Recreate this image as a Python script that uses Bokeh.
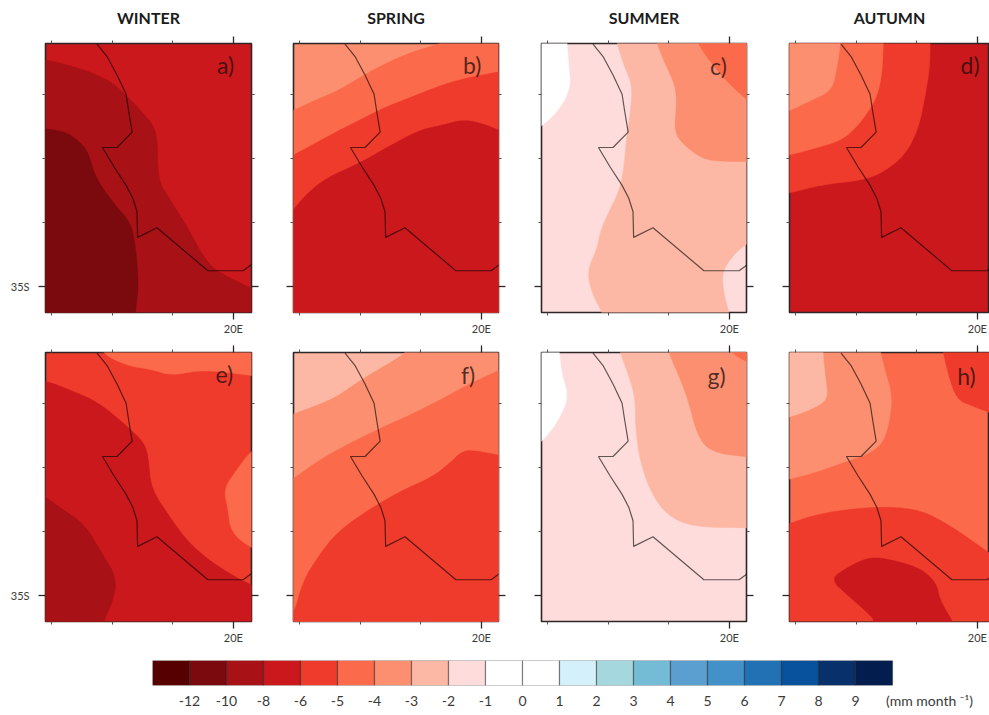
from bokeh.embed import file_html
from bokeh.resources import INLINE
from bokeh.layouts import column, row
from bokeh.models import ColumnDataSource, FixedTicker, Label, LinearAxis, Range1d, Title
from bokeh.plotting import figure

# ---- colour scale (one colour per colour-bar box) ----
box_colors = ["#560002", "#7b0a0e", "#a81116", "#cb181d", "#ef3b2c", "#fb6a4a", "#fc8f70",
              "#fcb8a4", "#fedcdc", "#ffffff", "#ffffff", "#d4f0fa", "#a5d8de", "#74bcd6",
              "#5a9fd0", "#4291c8", "#2171b5", "#08519c", "#08306b", "#041d4f"]
tick_labels = ["-12", "-10", "-8", "-6", "-5", "-4", "-3", "-2", "-1", "0",
               "1", "2", "3", "4", "5", "6", "7", "8", "9"]
unit_label = "(mm month \u207b\u00b9)"

season_titles = ["WINTER", "SPRING", "SUMMER", "AUTUMN"]
panel_letters = ["a)", "b)", "c)", "d)", "e)", "f)", "g)", "h)"]

# ---- coastline (lon, lat) ----
coast = [(17.75, -31.22), (17.92, -31.42), (18.08, -31.70), (18.23, -32.0), (18.27, -32.25),
         (18.33, -32.59), (18.08, -32.83), (17.84, -32.83), (18.03, -33.13), (18.23, -33.42),
         (18.34, -33.62), (18.41, -33.83), (18.42, -34.23), (18.74, -34.08), (19.58, -34.75),
         (20.16, -34.75), (20.29, -34.66), (20.5, -34.55)]

# ---- contour regions (lon, lat) ----
a_c8 = [(16.5, -31.44), (16.9, -31.46), (17.25, -31.54), (17.69, -31.67), (18.02, -31.83), (18.27, -32.06),
        (18.52, -32.30), (18.75, -32.58), (18.75, -33.34), (18.96, -33.65), (19.24, -34.07),
        (19.57, -34.64), (19.85, -34.82), (20.31, -35.03), (20.7, -35.2), (20.7, -35.7), (16.5, -35.7)]
a_c10 = [(16.5, -32.51), (17.19, -32.56), (17.47, -32.74), (17.61, -32.92), (17.72, -33.29), (18.02, -33.70),
         (18.30, -33.99), (18.38, -34.33), (18.44, -34.95), (18.38, -35.40), (18.38, -35.7), (16.5, -35.7)]

b_c4 = [(16.5, -32.4), (16.90, -32.25), (17.32, -32.07), (17.65, -31.94), (18.01, -31.73), (18.42, -31.52),
        (18.86, -31.34), (19.30, -31.22), (19.52, -31.13), (20.7, -31.0), (20.7, -35.7), (16.5, -35.7)]
b_c5 = [(16.5, -33.15), (16.90, -32.95), (17.21, -32.79), (17.60, -32.59), (18.04, -32.38), (18.42, -32.20),
        (18.86, -32.04), (19.25, -31.89), (19.69, -31.76), (20.29, -31.65), (20.7, -31.6), (20.7, -35.7), (16.5, -35.7)]
b_c6 = [(16.5, -34.2), (16.90, -33.80), (17.10, -33.57), (17.43, -33.31), (17.98, -33.08), (18.42, -32.84),
        (18.97, -32.56), (19.36, -32.48), (19.69, -32.40), (19.96, -32.44), (20.29, -32.56), (20.7, -32.7),
        (20.7, -35.7), (16.5, -35.7)]

c_white = [(16.5, -32.7), (16.90, -32.51), (17.21, -32.22), (17.38, -31.89), (17.35, -31.55), (17.32, -31.22),
           (17.32, -31.0), (16.5, -31.0)]
c_c2 = [(18.1, -31.0), (18.15, -31.22), (18.26, -31.55), (18.40, -31.86), (18.37, -32.27), (18.30, -32.69),
        (18.26, -33.16), (18.18, -33.52), (18.01, -33.83), (17.87, -34.14), (17.82, -34.40), (17.65, -34.76),
        (17.74, -35.12), (17.90, -35.39), (17.98, -35.7), (20.05, -35.7), (19.99, -35.39), (19.90, -35.07),
        (19.88, -34.76), (20.07, -34.50), (20.29, -34.32), (20.7, -34.1), (20.7, -31.0)]
c_c3 = [(18.75, -31.0), (18.81, -31.22), (18.95, -31.55), (19.11, -31.86), (19.13, -32.17), (19.09, -32.59),
        (19.25, -32.79), (19.47, -32.95), (19.69, -33.04), (20.29, -33.05), (20.7, -33.05), (20.7, -31.0)]
c_c4 = [(19.4, -31.0), (19.49, -31.22), (19.63, -31.42), (19.91, -31.76), (20.29, -32.09), (20.7, -32.4), (20.7, -31.0)]

d_c5 = [(16.5, -33.6), (16.90, -33.54), (17.43, -33.41), (18.09, -33.34), (18.42, -33.23), (18.81, -32.95),
        (19.03, -32.53), (19.14, -32.02), (19.22, -31.55), (19.22, -31.0), (16.5, -31.0)]
d_c4 = [(16.5, -33.0), (16.90, -32.95), (17.32, -32.84), (17.76, -32.72), (18.04, -32.48), (18.31, -32.12),
        (18.42, -31.76), (18.45, -31.22), (18.45, -31.0), (16.5, -31.0)]
d_c3 = [(16.5, -32.35), (16.90, -32.26), (17.27, -32.09), (17.60, -31.94), (17.68, -31.60), (17.74, -31.22),
        (17.74, -31.0), (16.5, -31.0)]

e_c4_top = [(17.82, -31.0), (17.82, -31.22), (18.26, -31.42), (18.64, -31.47), (18.97, -31.57), (19.41, -31.49),
            (19.85, -31.51), (20.29, -31.57), (20.7, -31.6), (20.7, -31.0)]
e_c4_right = [(20.7, -32.5), (20.29, -32.74), (20.07, -33.02), (19.84, -33.33), (19.91, -33.64), (19.96, -34.01),
              (20.29, -34.26), (20.7, -34.4)]
e_c6 = [(16.5, -31.6), (16.90, -31.65), (17.32, -31.80), (17.76, -31.98), (18.20, -32.32), (18.53, -32.61),
        (18.60, -32.87), (18.64, -33.33), (18.97, -33.80), (19.25, -34.16), (19.63, -34.47), (20.02, -34.70),
        (20.29, -34.83), (20.7, -35.0), (20.7, -35.7), (16.5, -35.7)]
e_c8 = [(16.5, -33.3), (16.90, -33.46), (17.16, -33.64), (17.54, -33.88), (17.82, -34.32), (18.08, -34.73),
        (18.01, -35.09), (17.85, -35.40), (17.8, -35.7), (16.5, -35.7)]

f_c3 = [(16.5, -32.3), (16.90, -32.17), (17.27, -32.04), (17.60, -31.91), (18.04, -31.62), (18.42, -31.41),
        (18.75, -31.22), (18.9, -31.0), (20.7, -31.0), (20.7, -35.7), (16.5, -35.7)]
f_c4 = [(16.5, -33.4), (16.90, -33.18), (17.27, -32.92), (17.71, -32.68), (18.31, -32.40), (18.81, -32.19),
        (19.36, -31.93), (19.80, -31.70), (20.29, -31.49), (20.7, -31.3), (20.7, -35.7), (16.5, -35.7)]
f_c5 = [(16.5, -35.6), (16.90, -35.33), (17.05, -34.78), (17.32, -34.37), (17.60, -34.03), (18.04, -33.72),
        (18.64, -33.38), (19.19, -33.15), (19.47, -32.94), (19.69, -32.74), (19.91, -32.74), (20.29, -32.81),
        (20.7, -32.9), (20.7, -35.7), (16.5, -35.7)]

g_white = [(16.5, -32.9), (16.90, -32.61), (17.16, -32.30), (17.35, -31.91), (17.24, -31.57), (17.19, -31.22),
           (17.19, -31.0), (16.5, -31.0)]
g_c2 = [(18.15, -31.0), (18.20, -31.22), (18.34, -31.57), (18.45, -31.93), (18.45, -32.40), (18.53, -32.92),
        (18.70, -33.38), (18.97, -33.75), (19.41, -33.93), (20.29, -33.94), (20.7, -33.94), (20.7, -31.0)]
g_c3 = [(18.95, -31.0), (19.00, -31.22), (19.19, -31.62), (19.33, -31.98), (19.47, -32.50), (19.69, -32.76),
        (20.29, -32.84), (20.7, -32.85), (20.7, -31.0)]
g_c4 = [(19.95, -31.0), (20.04, -31.22), (20.29, -31.36), (20.7, -31.5), (20.7, -31.0)]

h_c3 = [(16.5, -33.3), (16.90, -33.18), (17.32, -33.08), (17.85, -32.90), (18.20, -32.79), (18.42, -32.64),
        (18.53, -32.38), (18.60, -31.91), (18.48, -31.50), (18.40, -31.21), (18.37, -31.0), (16.5, -31.0)]
h_c2 = [(16.5, -32.3), (16.90, -32.22), (17.27, -32.09), (17.54, -31.94), (17.49, -31.60), (17.45, -31.21),
        (17.45, -31.0), (16.5, -31.0)]
h_c5_top = [(19.4, -31.0), (19.44, -31.21), (19.52, -31.55), (19.66, -31.94), (19.91, -32.04), (20.24, -32.16),
            (20.7, -32.3), (20.7, -31.0)]
h_c5_low = [(16.5, -33.95), (16.90, -33.88), (17.27, -33.75), (17.87, -33.65), (18.53, -33.61), (19.08, -33.67),
            (19.52, -33.89), (19.91, -34.14), (20.22, -34.35), (20.7, -34.65), (20.7, -35.7), (16.5, -35.7)]
h_c6 = [(17.57, -34.74), (17.87, -34.55), (18.23, -34.39), (18.64, -34.45), (19.08, -34.58), (19.33, -34.81),
        (19.38, -35.07), (19.60, -35.41), (19.75, -35.7), (18.1, -35.7), (18.34, -35.41), (18.15, -35.23),
        (17.87, -35.0)]

# panel: base box index, then (box index, region) painted in order
panel_a = (3, [(2, a_c8), (1, a_c10)])
panel_b = (6, [(5, b_c4), (4, b_c5), (3, b_c6)])
panel_c = (8, [(9, c_white), (7, c_c2), (6, c_c3), (5, c_c4)])
panel_d = (3, [(4, d_c5), (5, d_c4), (6, d_c3)])
panel_e = (4, [(5, e_c4_top), (5, e_c4_right), (3, e_c6), (2, e_c8)])
panel_f = (7, [(6, f_c3), (5, f_c4), (4, f_c5)])
panel_g = (8, [(9, g_white), (7, g_c2), (6, g_c3), (5, g_c4)])
panel_h = (5, [(6, h_c3), (7, h_c2), (4, h_c5_top), (4, h_c5_low), (3, h_c6)])
panels = [panel_a, panel_b, panel_c, panel_d, panel_e, panel_f, panel_g, panel_h]

FONT = "Lato"
INK = "#2e2626"


def rounded(region, passes=2):
    """Round the corners that lie inside the map; vertices far outside it stay put."""
    pts = list(region)
    for _ in range(passes):
        out = []
        n = len(pts)
        for k, (x, y) in enumerate(pts):
            if x < 16.7 or x > 20.5 or y > -31.05 or y < -35.6:
                out.append((x, y))
                continue
            xa, ya = pts[k - 1]
            xb, yb = pts[(k + 1) % n]
            out.append((0.75 * x + 0.25 * xa, 0.75 * y + 0.25 * ya))
            out.append((0.75 * x + 0.25 * xb, 0.75 * y + 0.25 * yb))
        pts = out
    return pts


def style_axis(ax, major, minor, overrides, font_size="11px", standoff=2, tick=7, mtick=3):
    ax.ticker = FixedTicker(ticks=major, minor_ticks=minor)
    ax.major_label_overrides = overrides
    ax.major_tick_out = tick
    ax.major_tick_in = 0
    ax.minor_tick_out = mtick
    ax.minor_tick_in = 0
    ax.major_tick_line_color = INK
    ax.minor_tick_line_color = "#55504f"
    ax.major_tick_line_width = 1.3
    ax.minor_tick_line_width = 1
    ax.axis_line_color = None
    ax.major_label_text_font = FONT
    ax.major_label_text_font_size = font_size
    ax.major_label_text_color = "#3a3a3a"
    ax.major_label_standoff = standoff


def make_panel(i):
    col, rw = i % 4, i // 4
    left = 45 if col == 0 else 21
    fw = [206, 205, 205, 200][col]
    right = [21, 22, 22, 0][col]
    top = 43 if rw == 0 else 10
    bottom = 30
    x_end = 16.90 + fw / 60.6
    p = figure(width=left + fw + right, height=top + 269 + bottom,
               x_range=Range1d(16.90, x_end), y_range=Range1d(-35.40, -31.21),
               output_backend="svg", toolbar_location=None, tools="",
               min_border_left=left, min_border_right=right, min_border_top=top, min_border_bottom=bottom)
    p.grid.visible = False
    base, layers = panels[i]
    p.background_fill_color = box_colors[base]
    for box, region in layers:
        pts = rounded(region)
        p.patch([v[0] for v in pts], [v[1] for v in pts],
                fill_color=box_colors[box], line_color=box_colors[box], line_width=0.5)
    p.line([v[0] for v in coast], [v[1] for v in coast], line_color="black", line_alpha=0.62, line_width=1.2)

    lon_major, lon_minor = [20], [17, 18, 19]
    lat_major, lat_minor = [-35], [-32, -33, -34]
    style_axis(p.xaxis[0], lon_major, lon_minor, {20: "20E"})
    style_axis(p.yaxis[0], lat_major, lat_minor, {-35: "35S" if col == 0 else ""}, standoff=9)
    top_ax = LinearAxis()
    style_axis(top_ax, lon_major, lon_minor, {20: ""}, standoff=0)
    p.add_layout(top_ax, "above")
    if col != 3:
        right_ax = LinearAxis()
        style_axis(right_ax, lat_major, lat_minor, {-35: ""}, standoff=0)
        p.add_layout(right_ax, "right")

    p.outline_line_color = INK
    p.outline_line_width = 1.6

    letter_lons = [19.87, 19.85, 19.82, 19.88, 19.85, 19.78, 19.79, 19.82]
    letter_lats = [-31.55, -31.55, -31.56, -31.54, -31.54, -31.56, -31.57, -31.58]
    p.add_layout(Label(x=letter_lons[i], y=letter_lats[i], text=panel_letters[i], text_font=FONT,
                       text_font_size="23px", text_color="#1a0d0d", text_alpha=0.75,
                       text_align="center", text_baseline="middle"))
    if rw == 0:
        title_offsets = [2, 1, 0, 3]
        p.add_layout(Title(text=season_titles[col], align="center", offset=title_offsets[col], text_font=FONT,
                           text_font_style="bold", text_font_size="16px", text_color="#1c1c1c",
                           standoff=15, vertical_align="top"), "above")
    return p


figs = [make_panel(i) for i in range(8)]

# ---- colour bar ----
n_boxes = len(box_colors)
bar_px = 37
cb = figure(width=989, height=9 + 25 + 26, x_range=Range1d(0, (989 - 152) / bar_px), y_range=Range1d(0, 1),
            output_backend="svg", toolbar_location=None, tools="",
            min_border_left=152, min_border_right=0, min_border_top=9, min_border_bottom=26)
cb.grid.visible = False
cb.yaxis.visible = False
cb.outline_line_color = None
src = ColumnDataSource(dict(left=list(range(n_boxes)), right=list(range(1, n_boxes + 1)), color=box_colors))
cb.quad(left="left", right="right", bottom=0, top=1, fill_color="color", source=src,
        line_color="#1a1a1a", line_alpha=0.45, line_width=1.2)
positions = list(range(1, n_boxes)) + [21.0]
ax = cb.xaxis[0]
ax.ticker = FixedTicker(ticks=positions)
ax.major_label_overrides = dict(zip(positions, tick_labels + [unit_label]))
ax.major_tick_line_color = None
ax.minor_tick_line_color = None
ax.major_tick_out = 0
ax.major_tick_in = 0
ax.axis_line_color = None
ax.major_label_text_font = FONT
ax.major_label_text_font_size = "14px"
ax.major_label_text_color = "#3a3a3a"
ax.major_label_standoff = 6

page = column(row(*figs[:4]), row(*figs[4:]), cb)
open("out.html", "w").write(file_html(page, INLINE))
